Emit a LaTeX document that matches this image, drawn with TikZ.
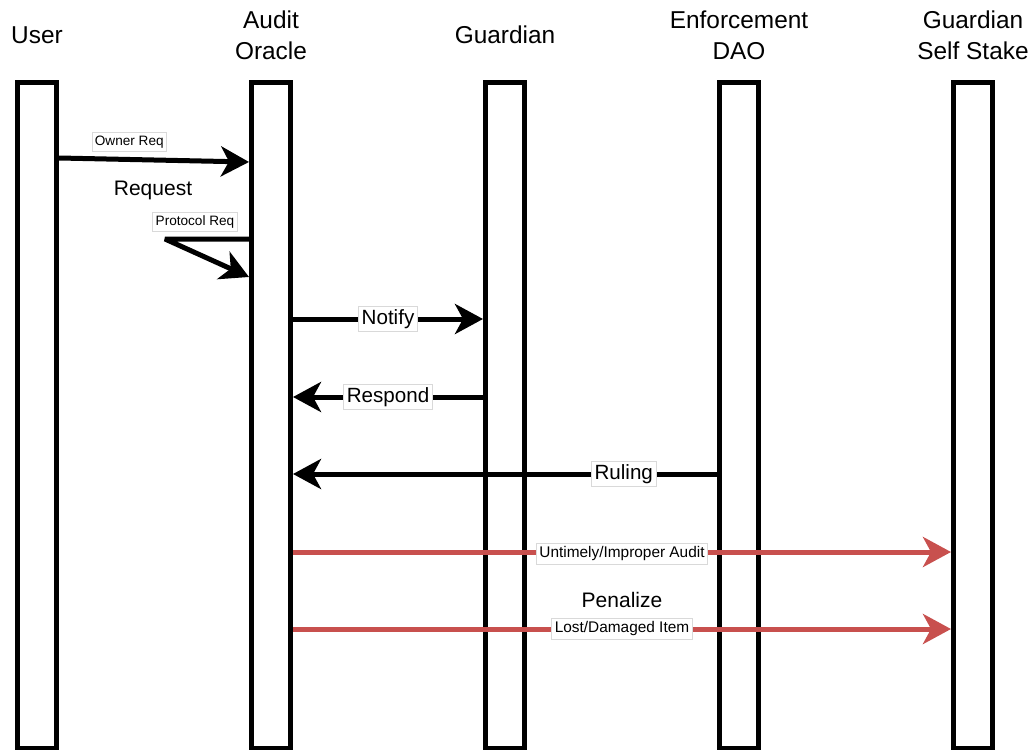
\documentclass[tikz,border=0pt]{standalone}
\usepackage{fontspec}
\setmainfont{Liberation Sans}
\usetikzlibrary{arrows.meta,positioning}
\definecolor{penred}{RGB}{200,80,78}

\begin{document}
\begin{tikzpicture}[
    x=0.5pt, y=-0.5pt,
    bar/.style={draw, line width=2.5pt, minimum width=19.5pt, minimum height=333pt, inner sep=0pt},
    head/.style={font=\fontsize{12.2}{15.5}\selectfont, align=center},
    msg/.style={-{Stealth[length=14pt, width=15pt, inset=4pt]}, line width=2.5pt},
    penalty/.style={msg, color=penred},
    tag/.style={fill=white, draw=black!15, line width=0.4pt, inner sep=1.5pt, text=black, font=\fontsize{#1}{#1}\selectfont},
    tag/.default=10.3,
    note/.style={font=\fontsize{10.5}{12}\selectfont},
]
\useasboundingbox (0,0) rectangle (1032,749);

% ── Lifelines ──
\node[bar] (user) at (37,415.5) {};
\node[bar] (oracle) at (271,415.5) {};
\node[bar] (guard) at (505,415.5) {};
\node[bar] (dao) at (739,415.5) {};
\node[bar] (stake) at (973,415.5) {};

% ── Headers ──
\node[head] (hUser) at (37,35) {User};
\node[head] (hOracle) at (271,35) {Audit\\Oracle};
\node[head] (hGuard) at (505,35) {Guardian};
\node[head] (hDao) at (739,35) {Enforcement\\DAO};
\node[head] (hStake) at (973,35) {Guardian\\Self Stake};

% ── Message levels ──
\coordinate (yOwnA) at (0,158);
\coordinate (yOwnB) at (0,162);
\coordinate (yLoopA) at (0,239);
\coordinate (yLoopB) at (0,277);
\coordinate (loopL) at (165,239);
\coordinate (yNotify) at (0,319);
\coordinate (yRespond) at (0,397);
\coordinate (yRuling) at (0,474);
\coordinate (yAudit) at (0,552);
\coordinate (yItem) at (0,629);

% ── Request ──
\draw[msg] (user.east |- yOwnA) -- node[tag=6.8, pos=0.37, above=4pt] (owner) {Owner Req} (oracle.west |- yOwnB);
\node[note] (req) at (153,190) {Request};
\node[tag=6.8] (proto) at (195,222) {Protocol Req};
\draw[msg, line join=bevel] (oracle.west |- yLoopA) -- (loopL) -- (oracle.west |- yLoopB);

% ── Audit ──
\draw[msg] (oracle.east |- yNotify) -- node[tag] (notify) {Notify} (guard.west |- yNotify);
\draw[msg] (guard.west |- yRespond) -- node[tag] (respond) {Respond} (oracle.east |- yRespond);
\draw[msg] (dao.west |- yRuling) -- node[tag, pos=0.22] (ruling) {Ruling} (oracle.east |- yRuling);

% ── Penalize ──
\draw[penalty] (oracle.east |- yAudit) -- node[tag=7.7, yshift=-1pt] (untimely) {Untimely/Improper Audit} (stake.west |- yAudit);
\node[note] (pen) at (622,600) {Penalize};
\draw[penalty] (oracle.east |- yItem) -- node[tag=7.7] (lost) {Lost/Damaged Item} (stake.west |- yItem);

\end{tikzpicture}
\end{document}
